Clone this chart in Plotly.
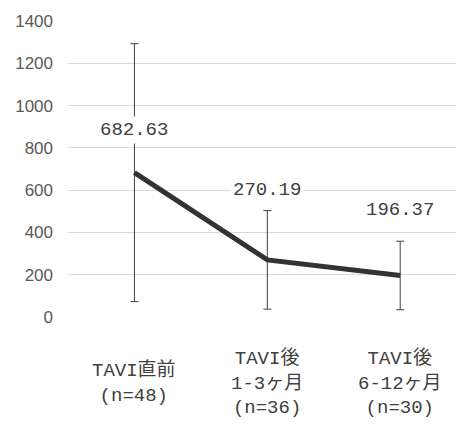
import plotly.graph_objects as go

# Groups, means and standard deviations
categories = ["TAVI直前<br>(n=48)", "TAVI後<br>1-3ヶ月<br>(n=36)", "TAVI後<br>6-12ヶ月<br>(n=30)"]
means = [682.63, 270.19, 196.37]
sds = [610, 233, 162]
y_ticks = [0, 200, 400, 600, 800, 1000, 1200, 1400]

# Vertical offset (px) of each value label above its point
label_shift = [43, 70, 65]

idx = list(range(len(categories)))
mono = "Liberation Mono, Noto Sans CJK JP"
sans = "Liberation Sans"

fig = go.Figure()
fig.add_trace(go.Scatter(
    x=idx, y=means, mode="lines",
    line=dict(color="#333333", width=5),
    error_y=dict(type="data", array=sds, visible=True,
                 color="#404040", thickness=1, width=4),
    hoverinfo="skip", showlegend=False,
))

for i, (m, s) in enumerate(zip(means, label_shift)):
    fig.add_annotation(
        x=i, y=m, xref="x", yref="y", text=f"{m:.2f}",
        showarrow=False, yshift=s, bgcolor="white", borderpad=2,
        font=dict(family=mono, size=19, color="#404040"),
    )

for i, c in enumerate(categories):
    fig.add_annotation(
        x=i, y=-0.223, xref="x", yref="paper", text=c,
        showarrow=False, yanchor="middle", xanchor="center",
        font=dict(family=mono, size=19, color="#404040"),
    )

fig.update_layout(
    width=456, height=424,
    margin=dict(l=68, r=0, t=21, b=107),
    plot_bgcolor="white", paper_bgcolor="white",
    xaxis=dict(range=[-0.5, 2.42], showticklabels=False, showgrid=False,
               zeroline=False, showline=False, fixedrange=True),
    yaxis=dict(range=[0, 1400], tickvals=y_ticks, showgrid=True,
               gridcolor="#d9d9d9", gridwidth=1, zeroline=False,
               showline=False, ticklabelstandoff=14,
               tickfont=dict(family=sans, size=17, color="#595959")),
)

fig.write_html("out.html")
